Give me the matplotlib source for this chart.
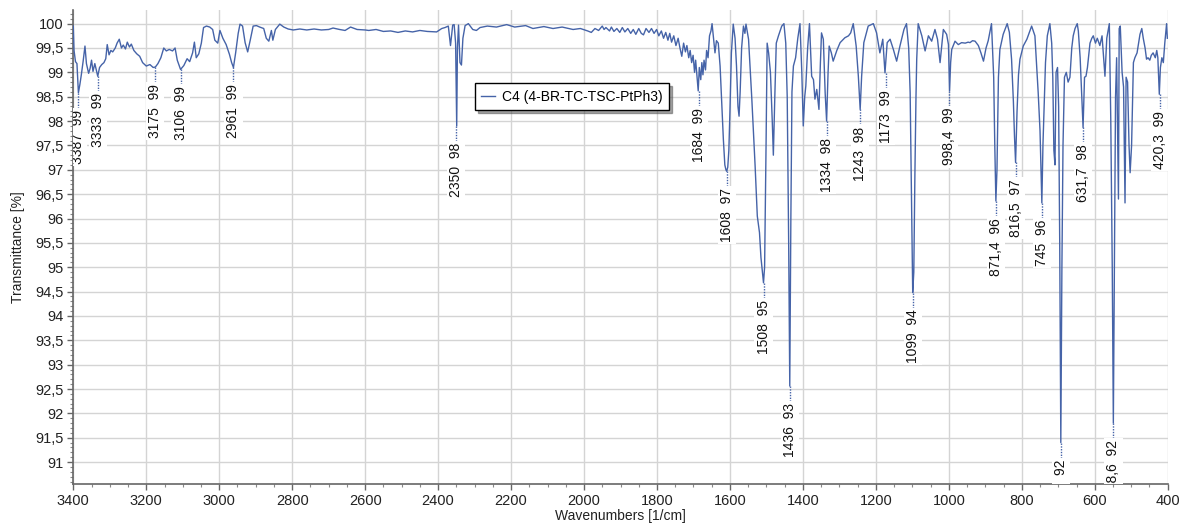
import matplotlib
matplotlib.use("Agg")
import matplotlib.pyplot as plt
from matplotlib.ticker import MultipleLocator, FixedLocator

plt.rcParams['font.family'] = ['Liberation Sans', 'DejaVu Sans']

# ---- spectrum (wavenumber [1/cm], transmittance [%]) ----
wavenumbers = [
    3400, 3398, 3394, 3390, 3386, 3382, 3378, 3373, 3368, 3364, 3358, 3354, 3350, 3346, 3341, 3337,
    3333, 3328, 3322, 3316, 3311, 3307, 3302, 3297, 3292, 3285, 3280, 3274, 3268, 3263, 3257, 3252,
    3246, 3241, 3234, 3226, 3218, 3210, 3200, 3190, 3181, 3175, 3168, 3160, 3152, 3145, 3137, 3128,
    3121, 3115, 3106, 3097, 3088, 3081, 3073, 3068, 3063, 3056, 3049, 3043, 3035, 3026, 3018, 3012,
    3004, 2998, 2990, 2981, 2972, 2966, 2961, 2955, 2948, 2943, 2936, 2929, 2922, 2915, 2907, 2898,
    2889, 2878, 2871, 2864, 2857, 2853, 2846, 2834, 2823, 2811, 2797, 2779, 2760, 2740, 2720, 2700,
    2688, 2670, 2655, 2640, 2622, 2600,
    2590, 2570, 2550, 2530, 2510, 2490, 2470, 2450, 2430, 2404, 2390, 2381, 2372, 2366, 2360, 2356,
    2352, 2349, 2347, 2344, 2340, 2336, 2332, 2326, 2317, 2305, 2295, 2285, 2265, 2240, 2212, 2190,
    2160, 2140, 2110, 2085, 2060, 2030, 2010,
    1990, 1980, 1970, 1960, 1950, 1945, 1940, 1930, 1925, 1918, 1910, 1902, 1895, 1888, 1880, 1872,
    1865, 1858, 1850, 1843, 1837, 1830, 1822, 1815, 1808, 1801, 1795, 1788, 1782, 1776, 1770, 1765,
    1760, 1754, 1748, 1742, 1737, 1732, 1727, 1722, 1718, 1713, 1709, 1705, 1701, 1697, 1694, 1690,
    1687, 1684, 1680, 1677, 1674, 1671, 1667, 1664, 1660, 1656, 1652, 1649, 1645, 1641, 1637,
    1632, 1627, 1623, 1618, 1614, 1611, 1609, 1606, 1603, 1600, 1596, 1591, 1586, 1582, 1578, 1575,
    1572, 1568, 1563, 1559, 1556, 1549, 1540, 1531, 1525, 1519, 1515, 1511, 1508, 1505, 1501, 1498,
    1494, 1489, 1484, 1481, 1477, 1473, 1467, 1458, 1452, 1447, 1443, 1439, 1436, 1433, 1430, 1426,
    1420, 1414, 1408, 1403, 1399, 1395, 1392, 1387, 1382, 1376, 1371, 1367, 1362, 1356, 1352, 1349,
    1344, 1339, 1335, 1331, 1328, 1322, 1317, 1307, 1298, 1285, 1275, 1269, 1262, 1254, 1248, 1243,
    1239, 1233, 1221, 1207, 1198, 1189, 1181, 1175, 1169, 1161, 1152, 1143, 1134, 1123, 1116, 1110,
    1106, 1102, 1099, 1096, 1093, 1090, 1088, 1084, 1074, 1065, 1056, 1047, 1038, 1031, 1024, 1015,
    1006, 1001, 998, 995, 992, 983, 974, 965, 955, 947, 942, 935, 928, 919, 912, 905,
    898, 892, 883, 877, 874, 871, 868, 864, 860, 851, 840, 834, 828, 823, 820, 817,
    813, 809, 805, 796, 786, 773, 764, 755, 750, 747, 745, 742, 738, 735, 730, 723,
    718, 715, 712, 709, 706, 702, 699, 696, 693, 690, 687, 683, 678, 673, 668, 663,
    659, 654, 648, 645, 640, 636, 632, 628, 624, 620, 613, 608, 604, 598, 593, 586,
    580, 572, 567, 560, 556, 552, 549, 546, 543, 540, 535, 533, 530, 525, 521, 517,
    514, 510, 506, 503, 499, 494, 490, 484, 476, 471, 467, 462, 458, 454, 449, 445,
    440, 434, 430, 427, 423, 420, 416, 412, 408, 403, 401,
]
transmittance = [
    99.95, 99.45, 99.22, 99.18, 98.58, 98.75, 98.95, 99.23, 99.54, 99.18, 98.98, 99.08, 99.25, 99.02, 99.18, 99.05,
    98.92, 99.10, 99.16, 99.20, 99.28, 99.57, 99.36, 99.45, 99.42, 99.50, 99.60, 99.68, 99.50, 99.56, 99.48, 99.62,
    99.52, 99.58, 99.45, 99.38, 99.33, 99.20, 99.13, 99.16, 99.10, 99.11, 99.18, 99.30, 99.50, 99.44, 99.47, 99.44,
    99.50, 99.25, 99.06, 99.14, 99.28, 99.22, 99.40, 99.62, 99.30, 99.38, 99.60, 99.92, 99.95, 99.93, 99.88, 99.66,
    99.60, 99.86, 99.70, 99.57, 99.37, 99.20, 99.10, 99.40, 99.80, 99.99, 99.95, 99.61, 99.42, 99.66, 99.95, 99.96,
    99.93, 99.90, 99.70, 99.64, 99.86, 99.66, 99.88, 99.99, 99.93, 99.89, 99.87, 99.89, 99.87, 99.89, 99.87, 99.88,
    99.91, 99.88, 99.86, 99.93, 99.88, 99.87,
    99.86, 99.88, 99.84, 99.85, 99.82, 99.85, 99.83, 99.86, 99.84, 99.83, 99.90, 99.92, 99.95, 99.55, 99.97, 99.98,
    99.60, 97.90, 99.50, 99.97, 99.20, 99.15, 99.70, 99.96, 100.0, 99.88, 99.86, 99.92, 99.95, 99.93, 99.98, 99.93,
    99.96, 99.90, 99.94, 99.90, 99.93, 99.88, 99.90,
    99.85, 99.82, 99.90, 99.86, 99.95, 99.88, 99.92, 99.85, 99.93, 99.84, 99.90, 99.82, 99.92, 99.83, 99.90, 99.80,
    99.88, 99.78, 99.90, 99.80, 99.77, 99.90, 99.82, 99.90, 99.80, 99.88, 99.75, 99.85, 99.70, 99.82, 99.66, 99.80,
    99.62, 99.75, 99.55, 99.70, 99.50, 99.33, 99.60, 99.42, 99.55, 99.30, 99.45, 99.20, 99.35, 99.00, 99.25, 98.90,
    98.62, 99.10, 98.85, 99.20, 98.95, 99.25, 99.05, 99.45, 99.30, 99.75, 99.85, 100.0, 99.70, 99.40, 99.65,
    99.60, 99.13, 98.45, 97.62, 97.10, 97.00, 96.97, 97.05, 97.40, 98.20, 99.40, 99.99, 99.70, 99.13, 98.30, 98.10,
    98.60, 99.50, 99.95, 99.80, 99.99, 99.68, 98.45, 97.08, 96.05, 95.71, 95.20, 94.90, 94.68, 95.00, 97.50, 99.60,
    99.40, 99.00, 98.00, 97.30, 98.50, 99.60, 99.75, 99.95, 100.0, 99.60, 98.50, 95.50, 92.56, 96.00, 98.60, 99.13,
    99.30, 99.70, 100.0, 99.00, 97.90, 98.50, 98.72, 99.50, 100.0, 98.92, 98.85, 98.45, 98.65, 98.24, 99.20, 99.81,
    99.68, 98.58, 98.00, 99.00, 99.54, 99.40, 99.23, 99.45, 99.61, 99.71, 99.75, 99.81, 100.0, 99.54, 98.92, 98.24,
    98.92, 99.61, 99.95, 100.0, 99.81, 99.40, 99.68, 98.99, 99.61, 99.68, 99.47, 99.23, 99.54, 99.88, 100.0, 99.50,
    98.58, 96.20, 94.48, 94.90, 96.90, 98.50, 99.27, 100.0, 99.75, 99.44, 99.75, 99.64, 99.88, 99.68, 99.20, 99.88,
    99.78, 99.57, 98.62, 99.20, 99.47, 99.64, 99.57, 99.61, 99.60, 99.62, 99.61, 99.65, 99.64, 99.55, 99.40, 99.23,
    99.50, 99.65, 100.0, 98.90, 97.50, 96.36, 97.00, 98.90, 99.47, 99.78, 100.0, 99.82, 99.27, 98.40, 97.69, 97.15,
    98.20, 98.95, 99.27, 99.54, 99.68, 99.95, 99.75, 98.58, 97.80, 96.90, 96.32, 97.50, 98.50, 99.20, 99.75, 100.0,
    99.60, 98.90, 97.40, 97.10, 99.00, 99.10, 98.30, 95.50, 91.40, 95.00, 97.50, 98.90, 99.00, 98.80, 98.90, 99.50,
    99.75, 99.90, 100.0, 99.85, 99.30, 98.60, 97.87, 98.90, 98.92, 99.10, 99.60, 99.70, 99.75, 99.60, 99.70, 99.55,
    99.75, 98.92, 99.70, 100.0, 98.00, 95.00, 91.80, 95.00, 98.50, 99.30, 96.40, 99.90, 99.95, 99.00, 98.70, 96.32,
    98.90, 98.80, 97.50, 96.94, 97.50, 99.20, 99.30, 99.40, 99.78, 99.90, 99.70, 99.50, 99.27, 99.30, 99.25, 99.35,
    99.40, 99.30, 99.45, 99.30, 98.55, 99.10, 99.30, 99.20, 99.60, 100.0, 99.70,
]

# ---- peak annotations: label text, position, peak transmittance ----
peak_labels = ["3387  99", "3333  99", "3175  99", "3106  99", "2961  99", "2350  98",
               "1684  99", "1608  97", "1508  95", "1436  93", "1334  98", "1243  98",
               "1173  99", "1099  94", "998,4  99", "871,4  96", "816,5  97", "745  96",
               "631,7  98", "420,3  99", "692  92", "548,6  92"]
peak_wn = [3387, 3333, 3175, 3106, 2961, 2350, 1684, 1608, 1508, 1436, 1334, 1243,
           1173, 1099, 998.4, 871.4, 816.5, 745, 631.7, 420.3, 693, 548.6]
peak_t = [98.58, 98.92, 99.11, 99.06, 99.10, 97.90, 98.62, 96.97, 94.68, 92.56, 98.00, 98.24,
          98.99, 94.48, 98.62, 96.36, 97.15, 96.32, 97.87, 98.55, 91.40, 91.80]

x_ticks = list(range(3400, 399, -200))
y_ticks = [91 + 0.5 * i for i in range(19)]

series_name = "C4 (4-BR-TC-TSC-PtPh3)"
line_color = "#4563a8"

fig = plt.figure(figsize=(11.86, 5.26), dpi=100)
W, H = 1186, 526
ax = fig.add_axes([73.3 / W, 1 - 484 / H, (1167.7 - 73.3) / W, (484 - 10) / H])

ax.plot(wavenumbers, transmittance, color=line_color, lw=1.0, label=series_name, zorder=3)

ax.set_xlim(3400, 400)
ax.set_ylim(90.55, 100.28)

ax.xaxis.set_major_locator(FixedLocator(x_ticks))
ax.set_xticklabels([str(v) for v in x_ticks])
ax.xaxis.set_minor_locator(MultipleLocator(50))
ax.yaxis.set_major_locator(FixedLocator(y_ticks))
ax.set_yticklabels([("%g" % v).replace(".", ",") for v in y_ticks])
ax.yaxis.set_minor_locator(MultipleLocator(0.1))

ax.grid(True, which="major", color="#d4d4d4", lw=1.0, zorder=0)
ax.set_axisbelow(True)
for s in ("top", "right"):
    ax.spines[s].set_visible(False)
for s in ("left", "bottom"):
    ax.spines[s].set_color("#666666")
    ax.spines[s].set_linewidth(1.2)
ax.tick_params(which="major", direction="out", length=4, width=1, color="#666666",
               labelsize=10.5, labelcolor="#222222", pad=3)
ax.tick_params(which="minor", direction="out", length=2, width=0.8, color="#888888")

ax.set_xlabel("Wavenumbers [1/cm]", fontsize=10, color="#222222")
ax.set_ylabel("Transmittance [%]", fontsize=10, color="#222222")
ax.xaxis.set_label_coords(0.4995, -0.052)
ax.yaxis.set_label_coords(-0.044, 0.5)

# peak labels with dotted leaders
gap = 0.33
for lab, wn, t in zip(peak_labels, peak_wn, peak_t):
    ax.plot([wn, wn], [t, t - gap], color=line_color, lw=1.0, ls=(0, (1, 1)), zorder=4)
    ax.text(wn, t - gap - 0.02, lab, rotation=90, ha="center", va="top", fontsize=10,
            color="#111111", clip_on=True, zorder=5,
            bbox=dict(boxstyle="square,pad=0.15", fc="white", ec="none"))

leg = ax.legend(loc="upper left", bbox_to_anchor=(0.367, 0.845), borderaxespad=0,
                fontsize=10, frameon=True, fancybox=False, shadow=True,
                handlelength=1.0, handletextpad=0.5, borderpad=0.45)
leg.get_frame().set_edgecolor("black")
leg.get_frame().set_linewidth(1.0)

fig.savefig("out.png", dpi=100)
